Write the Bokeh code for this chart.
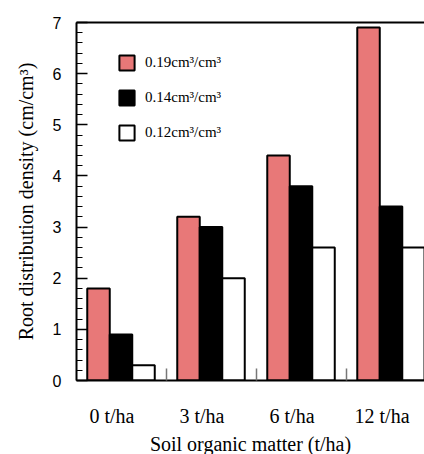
import numpy as np
from bokeh.plotting import figure
from bokeh.models import (Range1d, LinearAxis, FixedTicker, Legend, LegendItem,
                          ColumnDataSource)
from bokeh.embed import file_html
from bokeh.resources import INLINE

categories = ["0 t/ha", "3 t/ha", "6 t/ha", "12 t/ha"]
series_names = ["0.19cm³/cm³", "0.14cm³/cm³", "0.12cm³/cm³"]
v019 = [1.8, 3.2, 4.4, 6.9]
v014 = [0.9, 3.0, 3.8, 3.4]
v012 = [0.3, 2.0, 2.6, 2.6]
colors = ["#E87878", "#000000", "#FFFFFF"]
offsets = [-0.25, 0.0, 0.25]
bar_w = 0.25

SERIF = "Liberation Serif"
SANS = "Liberation Sans"

idx = np.arange(len(categories))

p = figure(frame_width=348, frame_height=358,
           min_border_left=76, min_border_right=0, min_border_top=22, min_border_bottom=70,
           output_backend="svg", toolbar_location=None,
           x_range=Range1d(-0.4944, 3.372), y_range=Range1d(0, 7),
           x_axis_type=None, y_axis_type=None)
p.outline_line_color = None
p.xgrid.visible = False
p.ygrid.visible = False
p.background_fill_color = "white"
p.border_fill_color = "white"

renderers = []
for vals, off, col in zip([v019, v014, v012], offsets, colors):
    src = ColumnDataSource(dict(x=idx + off, top=vals))
    r = p.vbar(x="x", top="top", bottom=0, width=bar_w, source=src,
               fill_color=col, line_color="black", line_width=2)
    renderers.append(r)

# Left axis
yax = LinearAxis(ticker=FixedTicker(ticks=list(range(0, 8)),
                                    minor_ticks=[round(i * 0.2, 1) for i in range(0, 36)]))
yax.axis_line_width = 2
yax.axis_line_color = "black"
yax.major_tick_in = 11
yax.major_tick_out = 0
yax.major_tick_line_width = 1.5
yax.minor_tick_in = 6
yax.minor_tick_out = 0
yax.minor_tick_line_width = 1.2
yax.major_label_text_font = SANS
yax.major_label_text_font_size = "16px"
yax.major_label_text_color = "black"
yax.major_label_standoff = 15
yax.axis_label = "Root distribution density (cm/cm³)"
yax.axis_label_text_font = SERIF
yax.axis_label_text_font_size = "20px"
yax.axis_label_text_font_style = "normal"
yax.axis_label_text_color = "black"
yax.axis_label_standoff = 13
p.add_layout(yax, "left")

# Bottom axis
label_pos = [float(i) - 0.1 for i in idx]
xax = LinearAxis(ticker=FixedTicker(ticks=label_pos,
                                    minor_ticks=[float(i) + 0.5 for i in idx[:-1]]))
xax.major_label_overrides = {pos: lab for pos, lab in zip(label_pos, categories)}
xax.axis_line_width = 2
xax.axis_line_color = "black"
xax.major_tick_in = 0
xax.major_tick_out = 0
xax.minor_tick_in = 12
xax.minor_tick_out = 0
xax.minor_tick_line_color = "#777777"
xax.minor_tick_line_width = 1.5
xax.major_label_text_font = SERIF
xax.major_label_text_font_size = "20px"
xax.major_label_text_color = "black"
xax.major_label_standoff = 24
xax.axis_label = "Soil organic matter (t/ha)"
xax.axis_label_text_font = SERIF
xax.axis_label_text_font_size = "20px"
xax.axis_label_text_font_style = "normal"
xax.axis_label_text_color = "black"
xax.axis_label_standoff = 3
p.add_layout(xax, "below")

# Top border
tax = LinearAxis(ticker=FixedTicker(ticks=[]))
tax.axis_line_width = 2
tax.axis_line_color = "black"
tax.major_tick_in = 0
tax.major_tick_out = 0
tax.minor_tick_in = 0
tax.minor_tick_out = 0
tax.major_label_text_font_size = "0px"
p.add_layout(tax, "above")

legend = Legend(items=[LegendItem(label=n, renderers=[r]) for n, r in zip(series_names, renderers)],
                location=(41, 238), orientation="vertical",
                glyph_width=19, glyph_height=19, spacing=16, label_standoff=9,
                label_text_font=SERIF, label_text_font_size="15px",
                label_text_color="black", padding=0, margin=0,
                border_line_color=None, background_fill_alpha=0)
p.add_layout(legend, "center")

open("out.html", "w").write(file_html(p, INLINE))
